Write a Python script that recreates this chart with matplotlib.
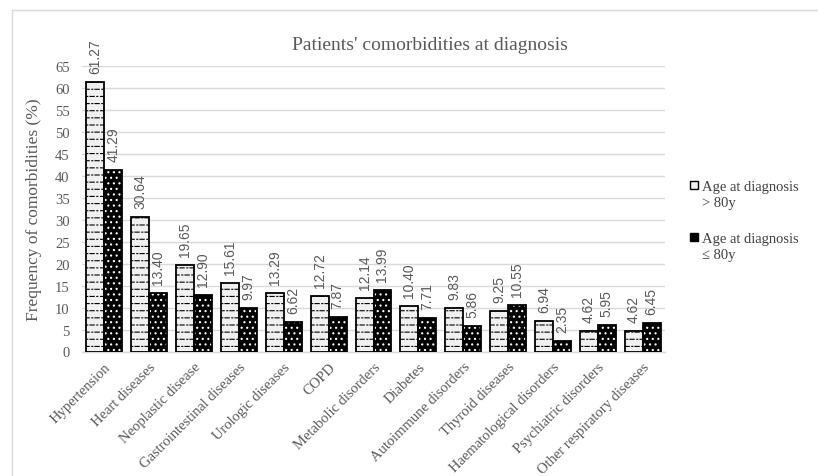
import numpy as np
import matplotlib
matplotlib.use("Agg")
import matplotlib.pyplot as plt
import matplotlib.hatch as mhatch
from matplotlib.path import Path
from matplotlib.patches import Rectangle
from matplotlib.legend_handler import HandlerPatch

categories = [
    "Hypertension", "Heart diseases", "Neoplastic disease",
    "Gastrointestinal diseases", "Urologic diseases", "COPD",
    "Metabolic disorders", "Diabetes", "Autoimmune disorders",
    "Thyroid diseases", "Haematological disorders",
    "Psychiatric disorders", "Other respiratory diseases",
]
over_80 = [61.27, 30.64, 19.65, 15.61, 13.29, 12.72, 12.14,
           10.40, 9.83, 9.25, 6.94, 4.62, 4.62]
under_80 = [41.29, 13.40, 12.90, 9.97, 6.62, 7.87, 13.99,
            7.71, 5.86, 10.55, 2.35, 5.95, 6.45]
series_labels = ["Age at diagnosis\n> 80y", "Age at diagnosis\n\u2264 80y"]
yticks = list(range(0, 70, 5))


class DashDotRowsHatch(mhatch.HatchPatternBase):
    """Staggered rows of short dashes with a dot in each gap, used for '-'."""
    rows = 14
    periods = 10

    def __init__(self, hatch, density):
        n = hatch.count('-') + hatch.count('+')
        self.num_vertices = (self.rows * self.periods * 4) if n else 0

    def set_vertices_and_codes(self, vertices, codes):
        ys = (np.arange(self.rows) + 0.5) / self.rows
        period = 1.0 / self.periods
        segs = [(0.0, 0.42 * period), (0.68 * period, 0.78 * period)]
        k = 0
        for r, y in enumerate(ys):
            shift = 0.0 if r % 2 == 0 else period / 2
            for d in range(self.periods):
                for a, b in segs:
                    x0 = (d * period + shift + a) % 1.0
                    x1 = min(x0 + (b - a), 1.0)
                    vertices[k] = (x0, y)
                    vertices[k + 1] = (x1, y)
                    codes[k] = Path.MOVETO
                    codes[k + 1] = Path.LINETO
                    k += 2


mhatch._hatch_types[0] = DashDotRowsHatch

plt.rcParams["hatch.linewidth"] = 0.8
serif = "Liberation Serif"
grey_text = "#595959"

fig = plt.figure(figsize=(8.18, 4.77), dpi=100)
ax = fig.add_axes([82 / 818, 1 - 352.5 / 477, (665 - 82) / 818, (352.5 - 67) / 477])

x = np.arange(len(categories))
w = 0.4
light = "#f0f0f0"

b1 = ax.bar(x - w / 2, over_80, w, facecolor=light, edgecolor="black",
            hatch="-", linewidth=0, zorder=3)
ax.bar(x - w / 2, over_80, w, fill=False, edgecolor="black", linewidth=1.3, zorder=4)
b2 = ax.bar(x + w / 2, under_80, w, facecolor="black", edgecolor="white",
            hatch="...", linewidth=0, zorder=3)
ax.bar(x + w / 2, under_80, w, fill=False, edgecolor="black", linewidth=1.3, zorder=4)

for xs, vals in ((x - w / 2, over_80), (x + w / 2, under_80)):
    for xi, v in zip(xs, vals):
        ax.annotate(f"{v:.2f}", (xi, v), xytext=(0, 6.5), textcoords="offset points",
                    rotation=90, ha="center", va="bottom", fontsize=10,
                    family="Liberation Sans", color="#595959", clip_on=False)

ax.set_xlim(-0.5, len(categories) - 0.5)
ax.set_ylim(0, 65)
ax.set_yticks(yticks)
ax.yaxis.grid(True, color="#d9d9d9", linewidth=1.0, zorder=0)
ax.set_axisbelow(True)
for s in ("top", "right", "left"):
    ax.spines[s].set_visible(False)
ax.spines["bottom"].set_color("#d9d9d9")
ax.spines["bottom"].set_linewidth(1.0)
ax.tick_params(axis="both", length=0, labelsize=10.5, labelcolor=grey_text)
ax.tick_params(axis="y", pad=9)
ax.tick_params(axis="x", pad=6)
ax.set_xticks(x)
ax.set_xticklabels(categories, rotation=45, ha="right", rotation_mode="anchor",
                   family=serif)
for lab in ax.get_yticklabels():
    lab.set_family(serif)
ax.set_ylabel("Frequency of comorbidities (%)", family=serif, fontsize=12.5,
              color=grey_text, labelpad=9)

fig.text(430 / 818, 1 - 45 / 477, "Patients' comorbidities at diagnosis",
         ha="center", va="center", family=serif, fontsize=14, color=grey_text)

# light frame around the chart area
fig.add_artist(Rectangle((12 / 818, -0.2), 2.0, 1.2 - 11 / 477, transform=fig.transFigure,
                         fill=False, edgecolor="#d9d9d9", linewidth=1.0))


def square_handle(legend, orig_handle, xdescent, ydescent, width, height, fontsize):
    s = 0.55 * fontsize
    return Rectangle((width - s - xdescent, height / 2 - s / 2 + 0.65 * fontsize - ydescent), s, s)


leg = fig.legend([b1[0], b2[0]], series_labels, loc="upper left",
                 bbox_to_anchor=(679 / 818, 1 - 174 / 477), frameon=False,
                 prop={"family": serif, "size": 10.5}, labelspacing=1.6,
                 handlelength=0.8, handletextpad=0.3, borderpad=0,
                 handler_map={Rectangle: HandlerPatch(patch_func=square_handle)})
for t in leg.get_texts():
    t.set_color("#404040")
    t.set_linespacing(1.25)
for h in leg.legend_handles:
    h.set_linewidth(1.0)
    h.set_edgecolor("black")
    h.set_hatch(None)

fig.savefig("out.png", dpi=100)
